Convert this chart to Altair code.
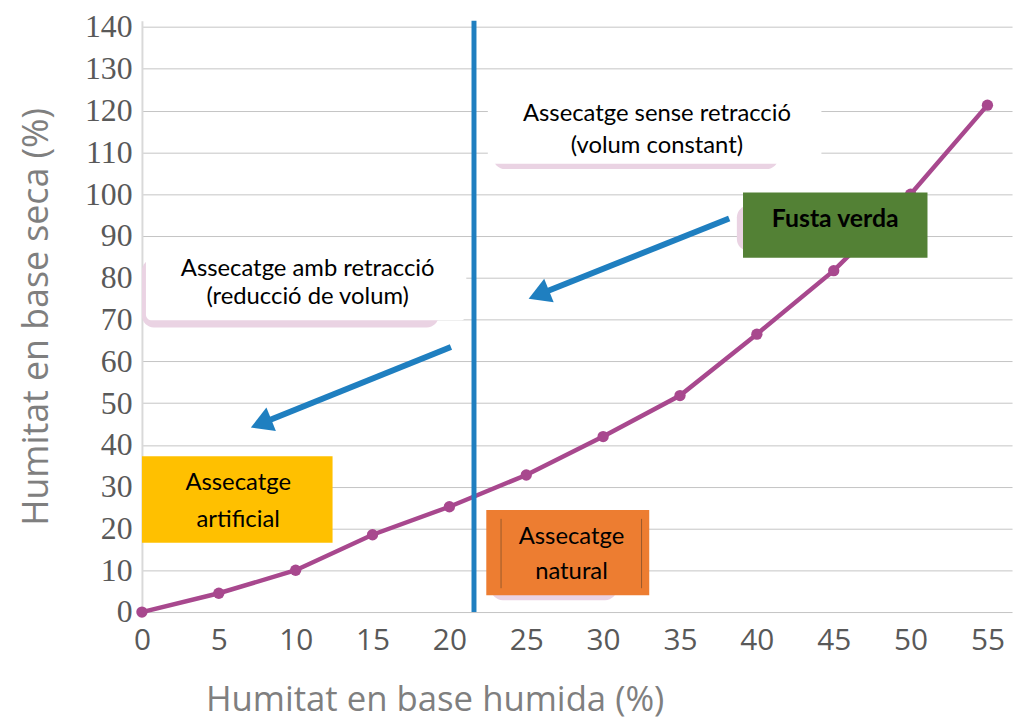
import altair as alt
import pandas as pd

# ---- data ----
x_vals = [0, 5, 10, 15, 20, 25, 30, 35, 40, 45, 50, 55]
y_vals = [0, 4.5, 10.0, 18.5, 25.2, 32.8, 42.0, 51.8, 66.5, 81.7, 100.0, 121.3]

x_ticks = list(range(0, 60, 5))
y_ticks = list(range(0, 150, 10))

X_DOMAIN = [0, 56.6]
Y_DOMAIN = [0, 141.5]

divider_x = [21.6, 21.6]
divider_y = [0, 141.5]

# annotation boxes (data coordinates)
shadow_x = [22.85, 0.0, 38.7, 22.7]
shadow_x2 = [41.4, 19.3, 48.0, 30.9]
shadow_y = [122.0, 84.5, 97.3, 22.3]
shadow_y2 = [106.0, 68.1, 86.4, 2.85]

white_x = [22.5, 0.26]
white_x2 = [44.2, 21.1]
white_y = [124.9, 86.9]
white_y2 = [107.3, 69.8]

fill_x = [39.1, 0.0, 22.4]
fill_x2 = [51.1, 12.4, 33.0]
fill_y = [100.4, 37.3, 24.45]
fill_y2 = [84.8, 16.6, 4.04]
fill_col = ["#538135", "#ffc000", "#ed7d31"]

edge_x = [23.36, 32.5]
edge_y = [22.3, 22.3]
edge_y2 = [5.7, 5.7]

text_x = [33.5, 33.5, 10.78, 10.78, 6.26, 6.26, 27.94, 27.94]
text_y = [119.2, 111.6, 82.1, 75.3, 30.9, 22.1, 18.0, 9.5]
text_s = ["Assecatge sense retracció", "(volum constant)",
          "Assecatge amb retracció", "(reducció de volum)",
          "Assecatge", "artificial", "Assecatge", "natural"]

bold_x = [45.1]
bold_y = [94.0]
bold_s = ["Fusta verda"]

arrow_x = [38.2, 20.1]
arrow_y = [94.2, 63.4]
arrow_x2 = [25.9, 7.95]
arrow_y2 = [76.1, 45.4]
head_x = [25.17, 7.1]
head_y = [75.0, 44.2]

W, H = 877, 596
PURPLE = "#a8488e"
BLUE = "#1f7fc0"

xs = alt.Scale(domain=X_DOMAIN, nice=False, zero=False)
ys = alt.Scale(domain=Y_DOMAIN, nice=False, zero=False)

curve = pd.DataFrame({"x": x_vals, "y": y_vals})

base_line = alt.Chart(curve).mark_line(color=PURPLE, strokeWidth=4.5).encode(
    x=alt.X("x:Q", scale=xs, axis=alt.Axis(
        values=x_ticks, title="Humitat en base humida (%)", grid=False,
        domain=False, ticks=False, labelFont="Open Sans", labelFontSize=30,
        labelColor="#595959", labelPadding=14, labelFlush=False,
        titleFont="Open Sans", titleFontSize=35, titleColor="#7f7f7f",
        titleFontWeight="normal", titleX=295, titleY=88, titleAlign="center",
        titleBaseline="middle")),
    y=alt.Y("y:Q", scale=ys, axis=alt.Axis(
        values=y_ticks, title="Humitat en base seca (%)", grid=True,
        gridColor="#c4c4c4", gridWidth=1, domain=True, domainColor="#d9d9d9",
        domainWidth=2, ticks=False, labelFont="Liberation Serif",
        labelFontSize=32, labelColor="#595959", labelPadding=10,
        labelFlush=False,
        titleFont="Open Sans", titleFontSize=36, titleColor="#7f7f7f",
        titleFontWeight="normal", titleX=-106, titleY=298, titleAngle=270,
        titleAlign="center", titleBaseline="middle")),
)
points = alt.Chart(curve).mark_circle(color=PURPLE, size=130, opacity=1).encode(
    x=alt.X("x:Q", scale=xs), y=alt.Y("y:Q", scale=ys))

divider = alt.Chart(pd.DataFrame({"x": divider_x, "y": divider_y})).mark_line(
    color=BLUE, strokeWidth=5, clip=False).encode(
    x=alt.X("x:Q", scale=xs), y=alt.Y("y:Q", scale=ys))

shadows = alt.Chart(pd.DataFrame({"x": shadow_x, "x2": shadow_x2, "y": shadow_y, "y2": shadow_y2})
                    ).mark_rect(color="#ead3e3", cornerRadius=12).encode(
    x=alt.X("x:Q", scale=xs), x2="x2:Q", y=alt.Y("y:Q", scale=ys), y2="y2:Q")

whites = alt.Chart(pd.DataFrame({"x": white_x, "x2": white_x2, "y": white_y, "y2": white_y2})
                   ).mark_rect(color="#ffffff", cornerRadius=6).encode(
    x=alt.X("x:Q", scale=xs), x2="x2:Q", y=alt.Y("y:Q", scale=ys), y2="y2:Q")

fills = alt.Chart(pd.DataFrame({"x": fill_x, "x2": fill_x2, "y": fill_y, "y2": fill_y2, "c": fill_col})
                  ).mark_rect().encode(
    x=alt.X("x:Q", scale=xs), x2="x2:Q", y=alt.Y("y:Q", scale=ys), y2="y2:Q",
    color=alt.Color("c:N", scale=None))

edges = alt.Chart(pd.DataFrame({"x": edge_x, "y": edge_y, "y2": edge_y2})).mark_rule(
    color="#9a5a2a", strokeWidth=1).encode(
    x=alt.X("x:Q", scale=xs), y=alt.Y("y:Q", scale=ys), y2="y2:Q")

texts = alt.Chart(pd.DataFrame({"x": text_x, "y": text_y, "t": text_s})).mark_text(
    font="Lato", fontSize=24, color="#000000", align="center", baseline="middle").encode(
    x=alt.X("x:Q", scale=xs), y=alt.Y("y:Q", scale=ys), text="t:N")

bold = alt.Chart(pd.DataFrame({"x": bold_x, "y": bold_y, "t": bold_s})).mark_text(
    font="Lato", fontSize=25, fontWeight="bold", color="#000000", align="center",
    baseline="middle").encode(
    x=alt.X("x:Q", scale=xs), y=alt.Y("y:Q", scale=ys), text="t:N")

arrows = alt.Chart(pd.DataFrame({"x": arrow_x, "y": arrow_y, "x2": arrow_x2, "y2": arrow_y2})
                   ).mark_rule(color=BLUE, strokeWidth=6).encode(
    x=alt.X("x:Q", scale=xs), y=alt.Y("y:Q", scale=ys), x2="x2:Q", y2="y2:Q")

heads = alt.Chart(pd.DataFrame({"x": head_x, "y": head_y})).mark_point(
    shape="triangle-up", size=650, filled=True, opacity=1, color=BLUE, angle=248,
    xOffset=10, yOffset=-4).encode(
    x=alt.X("x:Q", scale=xs), y=alt.Y("y:Q", scale=ys))

chart = alt.layer(
    base_line, points, divider, shadows, whites, fills, edges, texts, bold, arrows, heads
).properties(
    width=W, height=H,
    autosize=alt.AutoSizeParams(type="none"),
    padding={"left": 135, "top": 10, "right": 5, "bottom": 110},
).configure_view(stroke=None)

chart.save("out.html", embed_options={"renderer": "svg", "actions": False})
